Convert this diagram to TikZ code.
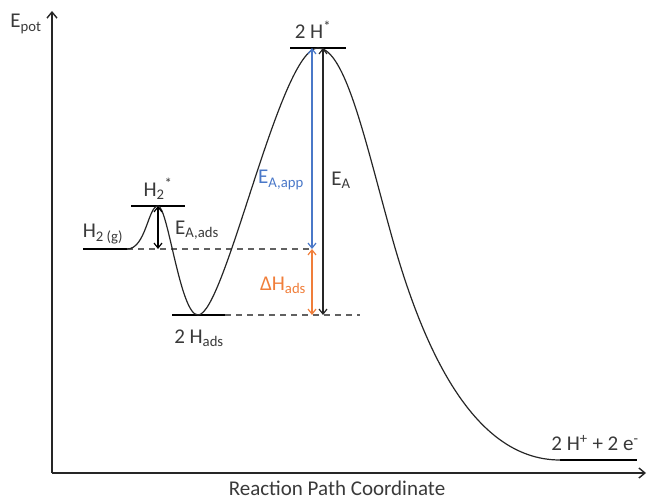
\documentclass[tikz,border=0pt]{standalone}
\usepackage{fontspec}
\setmainfont{Carlito}
\usetikzlibrary{arrows.meta}
\definecolor{txt}{HTML}{3A3A3A}
\definecolor{bluea}{HTML}{4A78C8}
\definecolor{oranga}{HTML}{F07E3A}
\tikzset{
  lbl/.style={text=txt,font=\fontsize{21}{24}\selectfont,inner sep=0pt},
  lvl/.style={line width=1.2pt,black},
  dsh/.style={line width=1.1pt,txt!80,dash pattern=on 6pt off 5pt},
  curve/.style={line width=1.2pt,black!85},
  dbl/.style={line width=1.2pt,{Straight Barb[length=5pt,width=8pt]}-{Straight Barb[length=5pt,width=8pt]}},
  axis/.style={line width=1.4pt,black!85,-{Straight Barb[length=6pt,width=10pt]}}
}
\begin{document}
\begin{tikzpicture}[x=1pt,y=-1pt]
\useasboundingbox (0,0) rectangle (647,500);
% axes
\coordinate (O) at (52,473);
\coordinate (ytop) at (52,11);
\coordinate (xend) at (646,473);
\draw[axis] (O) -- (ytop);
\draw[axis] (O) -- (xend);
\node[lbl] (epot) at (26,24) {E\textsubscript{pot}};
\node[lbl] (rpc) at (337,488) {Reaction Path Coordinate};
% key points
\coordinate (g1) at (83,249);
\coordinate (g2) at (127,249);
\coordinate (p1) at (158,206);
\coordinate (p1a) at (131,206);
\coordinate (p1b) at (185,206);
\coordinate (m) at (198,315);
\coordinate (ma) at (172,315);
\coordinate (mb) at (225,315);
\coordinate (mc) at (360,315);
\coordinate (p2) at (318,48);
\coordinate (p2a) at (290,48);
\coordinate (p2b) at (346,48);
\coordinate (inf) at (390,230);
\coordinate (e) at (560,460);
\coordinate (e2) at (637,460);
\coordinate (gd) at (312,249);
% level lines
\draw[lvl] (g1) -- (g2);
\draw[lvl] (p1a) -- (p1b);
\draw[lvl] (ma) -- (mb);
\draw[lvl] (p2a) -- (p2b);
\draw[lvl] (e) -- (e2);
% dashed lines
\draw[dsh] (g2) -- (gd);
\draw[dsh] (mb) -- (mc);
% curve
\draw[curve] (g2) .. controls (146,249) and (148,206) .. (p1)
  .. controls (168,206) and (180,315) .. (m)
  .. controls (225,315) and (280,48) .. (p2)
  .. controls (345,48) and (365,140) .. (inf)
  .. controls (420,340) and (470,460) .. (e);
% arrows
\coordinate (a1t) at (158,206);
\coordinate (a1b) at (158,249);
\draw[dbl,black] (a1t) -- (a1b);
\coordinate (bt) at (312,48);
\coordinate (bb) at (312,249);
\draw[dbl,bluea] (bt) -- (bb);
\coordinate (ot) at (312,249);
\coordinate (ob) at (312,315);
\draw[dbl,oranga] (ot) -- (ob);
\coordinate (kt) at (323,48);
\coordinate (kb) at (323,315);
\draw[dbl,black!85] (kt) -- (kb);
% labels
\node[lbl] (lh2g) at (103,234) {H\textsubscript{2 (g)}};
\node[lbl] (lh2s) at (158,189) {H\textsubscript{2}\textsuperscript{*}};
\node[lbl] (lead) at (197,230) {E\textsubscript{A,ads}};
\node[lbl] (l2hads) at (199,338) {2 H\textsubscript{ads}};
\node[lbl] (l2hs) at (313,30) {2 H\textsuperscript{*}};
\node[lbl,text=bluea] (leapp) at (281,180) {E\textsubscript{A,app}};
\node[lbl] (lea) at (341,180) {E\textsubscript{A}};
\node[lbl,text=oranga] (ldh) at (283,285) {ΔH\textsubscript{ads}};
\node[lbl] (lprod) at (595,443) {2 H\textsuperscript{+} + 2 e\textsuperscript{-}};
\end{tikzpicture}
\end{document}
